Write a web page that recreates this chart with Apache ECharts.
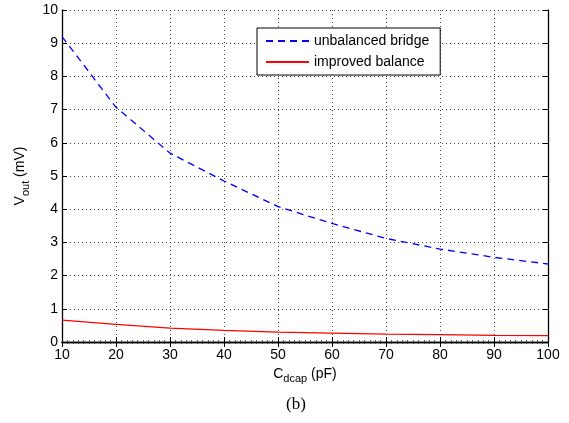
<!DOCTYPE html>
<html>
<head>
<meta charset="utf-8">
<script src="https://cdn.jsdelivr.net/npm/echarts@6/dist/echarts.min.js"></script>
<style>html,body{margin:0;padding:0;background:#fff;}#c{width:569px;height:423px;}</style>
</head>
<body>
<div id="c"></div>
<script>
var xValues = [10, 20, 30, 40, 50, 60, 70, 80, 90, 100];
var unbalancedBridge = [9.2, 7.07, 5.69, 4.85, 4.08, 3.57, 3.12, 2.80, 2.55, 2.35];
var improvedBalance = [0.66, 0.53, 0.42, 0.35, 0.30, 0.27, 0.24, 0.22, 0.20, 0.19];
var seriesNames = ['unbalanced bridge', 'improved balance'];

function pairs(xs, ys) { return xs.map(function (x, i) { return [x, ys[i]]; }); }

var FONT = '"Liberation Sans", Arial, Helvetica, sans-serif';
var chart = echarts.init(document.getElementById('c'));

var tickStyle = { show: true, inside: true, length: 5, lineStyle: { color: '#000', width: 1 } };
var axisLineStyle = { show: true, lineStyle: { color: '#000', width: 1.3 } };
var minorTickStyle = { show: true, splitNumber: 10, length: 2, lineStyle: { color: '#333', width: 0.8 } };

chart.setOption({
  animation: false,
  backgroundColor: '#fff',
  grid: { left: 62, right: 21, top: 10, bottom: 81, containLabel: false },
  xAxis: [{
    type: 'value', min: 10, max: 100, interval: 10, position: 'bottom',
    axisLine: axisLineStyle, axisTick: tickStyle, minorTick: minorTickStyle,
    axisLabel: { color: '#000', fontSize: 14, fontFamily: FONT, margin: 6 },
    splitLine: { show: true, lineStyle: { color: '#444', type: [1, 3], width: 1 } },
    name: '{c|C}{s|dcap}{c| (pF)}', nameLocation: 'middle', nameGap: 19,
    nameTextStyle: { rich: {
      c: { fontSize: 14, fontFamily: FONT, color: '#000', verticalAlign: 'top' },
      s: { fontSize: 11, fontFamily: FONT, color: '#000', padding: [7, 0, 0, 0] }
    } }
  }, {
    type: 'value', min: 10, max: 100, interval: 10, position: 'top',
    axisLine: axisLineStyle, axisTick: tickStyle, minorTick: minorTickStyle,
    axisLabel: { show: false }, splitLine: { show: false }
  }],
  yAxis: [{
    type: 'value', min: 0, max: 10, interval: 1, position: 'left',
    axisLine: axisLineStyle, axisTick: tickStyle,
    axisLabel: { color: '#000', fontSize: 14, fontFamily: FONT, margin: 4 },
    splitLine: { show: true, lineStyle: { color: '#444', type: [1, 3], width: 1 } },
    name: '{v|V}{s|out}{v| (mV)}', nameLocation: 'middle', nameGap: 24, nameRotate: 90,
    nameTextStyle: { rich: {
      v: { fontSize: 14, fontFamily: FONT, color: '#000', verticalAlign: 'top' },
      s: { fontSize: 11, fontFamily: FONT, color: '#000', padding: [7, 0, 0, 0] }
    } }
  }, {
    type: 'value', min: 0, max: 10, interval: 1, position: 'right',
    axisLine: axisLineStyle, axisTick: tickStyle,
    axisLabel: { show: false }, splitLine: { show: false }
  }],
  legend: {
    orient: 'vertical', left: 257, top: 28,
    padding: [6, 11, 6, 8], itemGap: 7, itemWidth: 43, itemHeight: 14,
    backgroundColor: '#fff', borderColor: '#000', borderWidth: 1,
    itemStyle: { opacity: 0, color: 'transparent', borderWidth: 0 },
    textStyle: { color: '#000', fontSize: 14, fontFamily: FONT },
    data: seriesNames
  },
  graphic: [{
    type: 'text', left: 286, top: 396,
    style: { text: '(b)', fontSize: 17, fontFamily: '"Liberation Serif", "Times New Roman", serif', fill: '#000' }
  }],
  series: [{
    name: seriesNames[0], type: 'line', symbol: 'none', smooth: false,
    data: pairs(xValues, unbalancedBridge),
    lineStyle: { color: '#0000ff', width: 1.3, type: [7, 5] },
    itemStyle: { color: '#0000ff' }
  }, {
    name: seriesNames[1], type: 'line', symbol: 'none', smooth: false,
    data: pairs(xValues, improvedBalance),
    lineStyle: { color: '#ff0000', width: 1.3 },
    itemStyle: { color: '#ff0000' }
  }]
});
</script>
</body>
</html>
